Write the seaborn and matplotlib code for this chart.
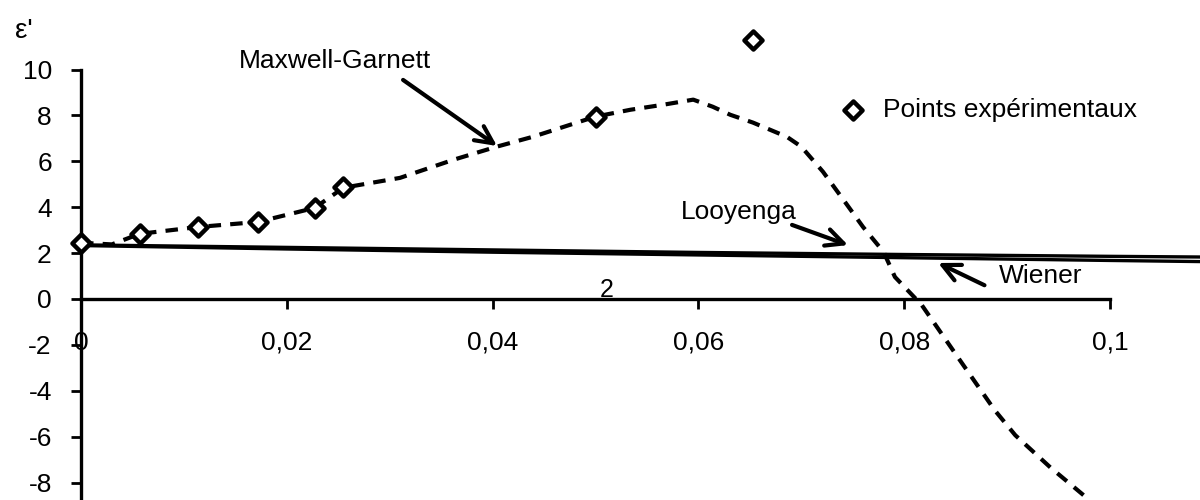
import matplotlib
matplotlib.use("Agg")
import matplotlib.pyplot as plt
import seaborn as sns
import pandas as pd

# values
x_exp = [0.0, 0.0057, 0.0114, 0.0172, 0.0227, 0.0255, 0.0500, 0.0653]
eps_exp = [2.45, 2.85, 3.14, 3.36, 3.97, 4.87, 7.95, 11.27]

x_mg = [0.0, 0.003, 0.0057, 0.0114, 0.0172, 0.0227, 0.0255, 0.031, 0.0362, 0.0404,
        0.0439, 0.050, 0.0534, 0.0566, 0.0595, 0.0614, 0.0631, 0.0653, 0.0686, 0.070,
        0.0711, 0.0721, 0.0741, 0.076, 0.078, 0.0791, 0.0817, 0.0852, 0.0888, 0.0908,
        0.0942, 0.0978, 0.0990]
eps_mg = [2.45, 2.38, 2.84, 3.14, 3.36, 3.97, 4.85, 5.28, 6.07, 6.64,
          7.07, 7.95, 8.25, 8.47, 8.69, 8.38, 8.03, 7.69, 7.07, 6.64,
          6.07, 5.55, 4.32, 3.14, 2.05, 0.96, -0.26, -2.53, -4.85, -5.94,
          -7.34, -8.69, -9.4]

x_models = [0.0, 0.02, 0.04, 0.06, 0.08, 0.10, 0.109]
eps_looyenga = [2.36, 2.25, 2.14, 2.03, 1.94, 1.86, 1.83]
eps_wiener = [2.33, 2.18, 2.04, 1.92, 1.80, 1.68, 1.63]

x_ticks = [0, 0.02, 0.04, 0.06, 0.08, 0.1]
x_ticklabels = ["0", "0,02", "0,04", "0,06", "0,08", "0,1"]
y_ticks = [-8, -6, -4, -2, 0, 2, 4, 6, 8, 10]
y_ticklabels = ["-8", "-6", "-4", "-2", "0", "2", "4", "6", "8", "10"]

FS = 19

sns.set_theme(style="white")
plt.rcParams["font.family"] = ["Liberation Sans", "DejaVu Sans"]
plt.rcParams["axes.unicode_minus"] = False
plt.rcParams["text.color"] = "black"

fig = plt.figure(figsize=(12, 5), dpi=100)
ax = fig.add_axes([0, 0, 1, 1])
ax.patch.set_alpha(0)

mg = pd.DataFrame({"x": x_mg, "eps": eps_mg})
models = pd.DataFrame({"x": x_models, "looyenga": eps_looyenga, "wiener": eps_wiener})
exp = pd.DataFrame({"x": x_exp, "eps": eps_exp})

sns.lineplot(data=models, x="x", y="looyenga", color="black", linewidth=2.4, ax=ax, zorder=2)
sns.lineplot(data=models, x="x", y="wiener", color="black", linewidth=2.4, ax=ax, zorder=2)
sns.lineplot(data=mg, x="x", y="eps", color="black", linewidth=3.0, ax=ax, zorder=2)
ax.lines[-1].set_dashes((3.0, 2.2))

sns.scatterplot(data=exp, x="x", y="eps", marker="D", s=85, color="white",
                edgecolor="black", linewidth=3.2, ax=ax, zorder=4,
                label="Points expérimentaux")

# axes through the origin, Excel style
ax.set_xticks(x_ticks)
ax.set_xticklabels(x_ticklabels)
ax.set_yticks(y_ticks)
ax.set_yticklabels(y_ticklabels)
ax.set_xlim(-81 / 10290, 1119 / 10290)
ax.set_ylim(-201 / 22.94, 299 / 22.94)
for side in ["top", "right"]:
    ax.spines[side].set_visible(False)
ax.spines["left"].set_position(("data", 0))
ax.spines["bottom"].set_position(("data", 0))
ax.spines["left"].set_bounds(-10, 10)
ax.spines["bottom"].set_bounds(0, 0.1)
for side in ["left", "bottom"]:
    ax.spines[side].set_linewidth(2.4)
    ax.spines[side].set_color("black")

ax.tick_params(axis="x", direction="out", length=7, width=2, pad=16,
               labelsize=FS, colors="black", bottom=True)
ax.tick_params(axis="y", direction="out", length=7, width=2, pad=14,
               labelsize=FS, colors="black", left=True)
ax.set_xlabel("")
ax.set_ylabel("")
ax.grid(False)

ax.legend(loc="center left", bbox_to_anchor=(838 / 1200, 1 - 110 / 500),
          bbox_transform=fig.transFigure, frameon=False, handlelength=1.1,
          handletextpad=0.6, borderpad=0, borderaxespad=0, fontsize=FS)

ax.text(-0.00641, 11.38, "ε'", fontsize=20, ha="left", va="baseline")
ax.text(0.02468, 10.37, "Maxwell-Garnett", fontsize=FS, ha="center", va="center")
ax.text(0.06395, 3.79, "Looyenga", fontsize=FS, ha="center", va="center")
ax.text(0.0933, 1.0, "Wiener", fontsize=FS, ha="center", va="center")
ax.text(0.0511, 0.09, "2", fontsize=18, ha="center", va="baseline")

arrow = dict(arrowstyle="->, head_length=0.45, head_width=0.22", lw=3.0,
             color="black", shrinkA=0, shrinkB=0, mutation_scale=28)
ax.annotate("", xy=(0.04043, 6.67), xytext=(0.0313, 9.55), arrowprops=arrow)
ax.annotate("", xy=(0.07454, 2.35), xytext=(0.0691, 3.23), arrowprops=arrow)
ax.annotate("", xy=(0.0833, 1.57), xytext=(0.0878, 0.6), arrowprops=arrow)

fig.savefig("out.png", dpi=100)
